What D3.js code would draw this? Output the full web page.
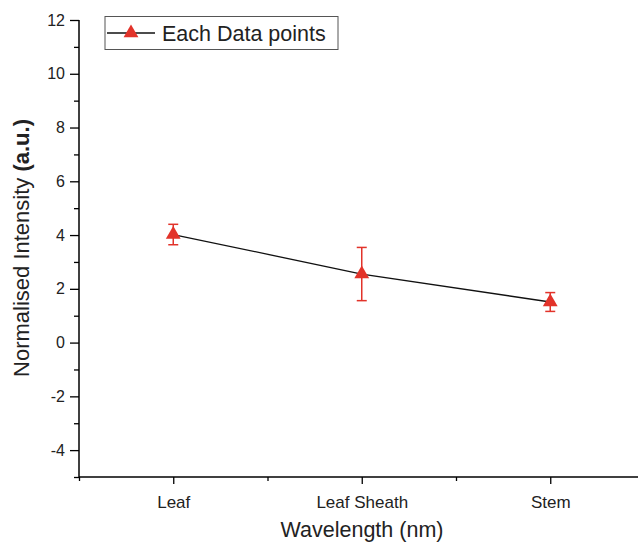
<!DOCTYPE html>
<html><head><meta charset="utf-8">
<script src="https://cdn.jsdelivr.net/npm/d3@7"></script>
<style>body{margin:0;background:#fff}svg{display:block;font-family:"Liberation Sans",Arial,sans-serif}</style>
</head><body><div id="chart"></div>
<script>
const categories = ["Leaf", "Leaf Sheath", "Stem"];
const values = [4.02, 2.55, 1.51];
const errors = [0.38, 0.99, 0.35];
const yTicks = [-4, -2, 0, 2, 4, 6, 8, 10, 12];
const yMinorTicks = [-5, -3, -1, 1, 3, 5, 7, 9, 11];
const seriesName = "Each Data points";

const W = 638, H = 543;
const red = "#e2332a";
const svg = d3.select("#chart").append("svg").attr("width", W).attr("height", H);

const x = d3.scaleLinear().domain([0.5, 3.5]).range([79, 644.5]);
const y = d3.scaleLinear().domain([-5, 12]).range([477, 20]);

// Y axis
const gy = svg.append("g").attr("transform", "translate(79,0)");
gy.call(d3.axisLeft(y).tickValues(yTicks).tickSize(9).tickPadding(5).tickFormat((d) => String(d)));
gy.append("g").call(d3.axisLeft(y).tickValues(yMinorTicks).tickSize(5).tickFormat(""));
gy.selectAll(".domain").remove();
gy.append("line").attr("x1", 0).attr("x2", 0).attr("y1", y(12)).attr("y2", y(-5)).attr("stroke", "#000").attr("stroke-width", 1.5);
gy.selectAll("text").attr("font-size", 16).attr("fill", "#222").attr("font-family", "Liberation Sans, Arial, sans-serif");
gy.selectAll(".tick line").attr("stroke-width", 1.3);

// X axis
const gx = svg.append("g").attr("transform", "translate(0,477)");
gx.call(d3.axisBottom(x).tickValues([1, 2, 3]).tickSize(7).tickPadding(12).tickFormat((d) => categories[d - 1]));
gx.append("g").call(d3.axisBottom(x).tickValues([0.5, 1.5, 2.5, 3.5]).tickSize(4).tickFormat(""));
gx.selectAll(".domain").remove();
gx.append("line").attr("x1", 79).attr("x2", W).attr("y1", 0).attr("y2", 0).attr("stroke", "#000").attr("stroke-width", 1.5);
gx.selectAll("text").attr("font-size", 17).attr("fill", "#222").attr("font-family", "Liberation Sans, Arial, sans-serif");
gx.selectAll(".tick line").attr("stroke-width", 1.3);

// Titles
svg.append("text").attr("x", 362).attr("y", 537).attr("text-anchor", "middle")
  .attr("font-size", 21.5).attr("fill", "#222").text("Wavelength (nm)");
const yt = svg.append("text").attr("transform", "translate(29,248) rotate(-90)").attr("text-anchor", "middle")
  .attr("font-size", 22).attr("fill", "#222");
yt.append("tspan").text("Normalised Intensity ");
yt.append("tspan").attr("font-weight", "bold").text("(a.u.)");

// Line
const pts = values.map((v, i) => [x(i + 1), y(v)]);
svg.append("path").attr("d", d3.line()(pts)).attr("fill", "none").attr("stroke", "#111").attr("stroke-width", 1.3);

// Error bars
const eb = svg.append("g").attr("stroke", red).attr("stroke-width", 1.5);
values.forEach((v, i) => {
  const cx = x(i + 1), hi = y(v + errors[i]), lo = y(v - errors[i]);
  eb.append("line").attr("x1", cx).attr("x2", cx).attr("y1", hi).attr("y2", lo);
  eb.append("line").attr("x1", cx - 5).attr("x2", cx + 5).attr("y1", hi).attr("y2", hi);
  eb.append("line").attr("x1", cx - 5).attr("x2", cx + 5).attr("y1", lo).attr("y2", lo);
});

// Markers
const tri = d3.symbol().type(d3.symbolTriangle).size(95);
svg.append("g").selectAll("path").data(values).join("path")
  .attr("transform", (d, i) => `translate(${x(i + 1)},${y(d)})`)
  .attr("d", tri).attr("fill", red);

// Legend
const lg = svg.append("g");
lg.append("rect").attr("x", 105).attr("y", 16.5).attr("width", 233).attr("height", 33)
  .attr("fill", "#fff").attr("stroke", "#555").attr("stroke-width", 1);
lg.append("line").attr("x1", 107).attr("x2", 155).attr("y1", 33).attr("y2", 33).attr("stroke", "#111").attr("stroke-width", 1.3);
lg.append("path").attr("transform", "translate(131,33)").attr("d", tri).attr("fill", red);
lg.append("text").attr("x", 162).attr("y", 40.5).attr("font-size", 21.5).attr("fill", "#222").text(seriesName);
</script></body></html>
